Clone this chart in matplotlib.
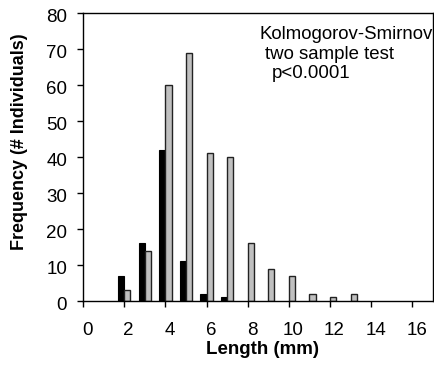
import matplotlib
matplotlib.use("Agg")
import matplotlib.pyplot as plt
from matplotlib.transforms import ScaledTranslation
import numpy as np

plt.rcParams['font.family'] = ['Liberation Sans', 'DejaVu Sans']

lengths = [2, 3, 4, 5, 6, 7, 8, 9, 10, 11, 12, 13]
black_counts = [7, 16, 42, 11, 2, 1, 0, 0, 0, 0, 0, 0]
gray_counts = [3, 14, 60, 69, 41, 40, 16, 9, 7, 2, 1, 2]
x_ticks = [0, 2, 4, 6, 8, 10, 12, 14, 16]
y_ticks = [0, 10, 20, 30, 40, 50, 60, 70, 80]

W, H = 435, 366
fig = plt.figure(figsize=(W/100, H/100), dpi=100)
ax = fig.add_axes([83/W, 1-301/H, 350/W, 288/H])

x = np.array(lengths, dtype=float)
bw = 0.3
bx = [xi for xi, v in zip(x, black_counts) if v > 0]
bv = [v for v in black_counts if v > 0]
ax.bar(np.array(bx) - bw, bv, width=bw, align='edge',
       color='black', edgecolor='black', linewidth=0.8)
ax.bar(x, gray_counts, width=bw, align='edge',
       color='#c0c0c0', edgecolor='#222222', linewidth=1.0)

ax.set_xlim(0, 17)
ax.set_ylim(0, 80)
ax.set_xticks(x_ticks)
ax.set_yticks(y_ticks)
ax.tick_params(axis='both', direction='out', length=4, width=1, labelsize=13.5, colors='black')
ax.tick_params(axis='x', pad=11)
ax.tick_params(axis='y', pad=7.5)
for s in ax.spines.values():
    s.set_linewidth(1)
    s.set_color('black')

for lab in ax.get_xticklabels():
    lab.set_transform(lab.get_transform() + ScaledTranslation(4.5/100, 0, fig.dpi_scale_trans))
for lab in ax.get_yticklabels():
    lab.set_transform(lab.get_transform() + ScaledTranslation(0, -3/100, fig.dpi_scale_trans))

fig.text(262/W, 1-350/H, 'Length (mm)', fontsize=13.5, fontweight='bold', ha='center', va='center')
fig.text(20/W, 1-142/H, 'Frequency (# Individuals)', fontsize=13, fontweight='bold',
         ha='center', va='center', rotation=90)

def px(xp, yp):
    return ((xp-83)/350, (301-yp)/288)

ax.text(*px(260, 39.3), 'Kolmogorov-Smirnov', transform=ax.transAxes, fontsize=13.4, va='baseline', ha='left')
ax.text(*px(265, 59), 'two sample test', transform=ax.transAxes, fontsize=13.4, va='baseline', ha='left')
ax.text(*px(271.5, 78.3), 'p<0.0001', transform=ax.transAxes, fontsize=13.4, va='baseline', ha='left')

fig.savefig('out.png', dpi=100)
